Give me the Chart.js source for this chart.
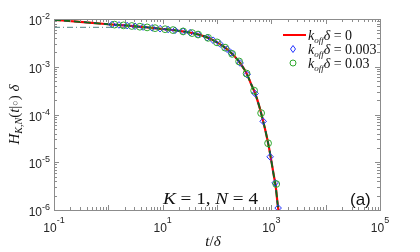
<!DOCTYPE html>
<html>
<head>
<meta charset="utf-8">
<script src="https://cdn.jsdelivr.net/npm/chart.js@4/dist/chart.umd.min.js"></script>
<style>
html, body { margin: 0; padding: 0; background: #fff; }
#wrap { width: 420px; height: 252px; }
</style>
</head>
<body>
<div id="wrap"><canvas id="myChart" width="420" height="252"></canvas></div>
<script>
// main curve, k_off*delta = 0
const curveT = [0.1, 0.3, 1, 2, 4, 7, 10, 15, 25, 40, 60, 80, 100, 130, 160, 190, 230, 270, 320, 360, 420, 500, 600, 700, 800, 900, 1000, 1100, 1200, 1300, 1400];
const curveH = [0.00962, 0.00871, 0.00776, 0.00733, 0.00684, 0.00646, 0.00617, 0.00589, 0.00543, 0.0049, 0.00427, 0.00372, 0.00324, 0.00269, 0.00224, 0.00186, 0.00148, 0.00117, 0.00087, 0.00068, 0.000447, 0.000282, 0.000148, 7.6e-5, 4.0e-5, 2.1e-5, 1.07e-5, 5.6e-6, 3.2e-6, 1.4e-6, 7.1e-7];

// k_off*delta = 0.003 (blue diamonds)
const blueT = [1.17, 1.57, 2.21, 3.1, 4.36, 6.38, 8.96, 12.6, 16.9, 23.8, 32, 44.9, 65.7, 84.8, 114, 153, 182, 266, 358, 503, 708, 951, 1175, 1334];
const blueH = [0.00767, 0.0075, 0.00728, 0.00705, 0.00679, 0.00652, 0.00627, 0.00603, 0.0058, 0.0055, 0.00519, 0.00473, 0.00407, 0.00359, 0.00299, 0.00234, 0.00195, 0.0012, 0.000684, 0.000275, 7.2e-5, 1.3e-5, 3.7e-6, 1.1e-6];

// k_off*delta = 0.03 (green circles)
const greenT = [1.3, 1.9, 2.7, 3.8, 5.17, 7.25, 11.1, 15.5, 23.8, 34.8, 44.9, 68.5, 100, 141, 190, 255, 350, 482, 649, 871, 1230];
const greenH = [0.00762, 0.00736, 0.00714, 0.00689, 0.00667, 0.00643, 0.00611, 0.00586, 0.0055, 0.00507, 0.00473, 0.00403, 0.00324, 0.00251, 0.00186, 0.00129, 0.00072, 0.000316, 0.000107, 2.5e-5, 3.5e-6];

// short-time plateau (dash-dot)
const plateauT = [0.1, 4.5];
const plateauH = [0.0067, 0.0067];

const xTickExp = [-1, 1, 3, 5];
const yTickExp = [-2, -3, -4, -5, -6];
const legendLabels = ['0', '0.003', '0.03'];

const pts = (t, h) => t.map((v, i) => ({x: v, y: h[i]}));

const axisColor = '#8c8c8c';
const textColor = '#262626';

function drawSegments(ctx, segs, x, y) {
  // segs: [text, font, dy]
  let cx = x;
  for (const s of segs) {
    ctx.font = s[1];
    ctx.fillText(s[0], cx, y + (s[2] || 0));
    cx += ctx.measureText(s[0]).width;
  }
  return cx;
}
function segWidth(ctx, segs) {
  let w = 0;
  for (const s of segs) { ctx.font = s[1]; w += ctx.measureText(s[0]).width; }
  return w;
}
// stretch a run of segments to a given width (LaTeX spacing is wider)
function drawFitted(ctx, segs, x, y, width) {
  const w = segWidth(ctx, segs);
  ctx.save();
  ctx.translate(x, y);
  ctx.scale(width / w, 1);
  drawSegments(ctx, segs, 0, 0);
  ctx.restore();
}

const serif = '"Liberation Serif", "DejaVu Serif", serif';
const sans = '"Liberation Sans", Arial, sans-serif';

const decor = {
  id: 'decor',
  afterDraw(chart) {
    const ctx = chart.ctx;
    const a = chart.chartArea;
    const xs = chart.scales.x, ys = chart.scales.y;
    ctx.save();
    // box
    ctx.strokeStyle = axisColor;
    ctx.lineWidth = 1;
    ctx.strokeRect(Math.round(a.left) + 0.5, Math.round(a.top) + 0.5, Math.round(a.right - a.left), Math.round(a.bottom - a.top));
    // ticks
    ctx.beginPath();
    for (let e = -1; e <= 4; e++) {
      for (let m = 1; m <= 10; m++) {
        const v = m * Math.pow(10, e);
        const px = Math.round(xs.getPixelForValue(v)) + 0.5;
        const len = (m === 1 || m === 10) ? 5 : 3;
        ctx.moveTo(px, a.bottom); ctx.lineTo(px, a.bottom - len);
        ctx.moveTo(px, a.top); ctx.lineTo(px, a.top + len);
      }
    }
    for (let e = -6; e <= -3; e++) {
      for (let m = 1; m <= 10; m++) {
        const v = m * Math.pow(10, e);
        const py = Math.round(ys.getPixelForValue(v)) + 0.5;
        const len = (m === 1 || m === 10) ? 5 : 3;
        ctx.moveTo(a.left, py); ctx.lineTo(a.left + len, py);
        ctx.moveTo(a.right, py); ctx.lineTo(a.right - len, py);
      }
    }
    ctx.stroke();

    // tick labels
    ctx.fillStyle = textColor;
    ctx.textBaseline = 'alphabetic';
    ctx.textAlign = 'left';
    for (const e of xTickExp) {
      const px = xs.getPixelForValue(Math.pow(10, e));
      const segs = [['10', '12px ' + sans, 0], [String(e), '9px ' + sans, -9]];
      const w = segWidth(ctx, segs);
      drawSegments(ctx, segs, px - w / 2, a.bottom + 22);
    }
    for (const e of yTickExp) {
      const py = ys.getPixelForValue(Math.pow(10, e));
      const segs = [['10', '12px ' + sans, 0], [String(e), '9px ' + sans, -6]];
      const w = segWidth(ctx, segs);
      drawSegments(ctx, segs, a.left - 4 - w, py + 6);
    }

    // axis titles
    ctx.fillStyle = '#111';
    const xl = [['t', 'italic 15px ' + serif, 0], ['/', '15px ' + serif, 0], ['δ', 'italic 15px ' + serif, 0]];
    let w = segWidth(ctx, xl);
    drawSegments(ctx, xl, (a.left + a.right) / 2 - 4 - w / 2, 246);

    const yl = [['H', 'italic 15px ' + serif, 0], ['K,N', 'italic 10px ' + serif, 3], ['(', '15px ' + serif, 0], ['t', 'italic 15px ' + serif, 0], ['|', '15px ' + serif, 0], ['○', '9px ' + sans, -1], [')', '15px ' + serif, 0], [' δ', 'italic 15px ' + serif, 0]];
    ctx.save();
    ctx.translate(19, (a.top + a.bottom) / 2);
    ctx.rotate(-Math.PI / 2);
    w = segWidth(ctx, yl);
    drawSegments(ctx, yl, -w / 2, 0);
    ctx.restore();

    // annotation texts
    const kn = [['K', 'italic 16px ' + serif, 0], [' = 1, ', '16px ' + serif, 0], ['N', 'italic 16px ' + serif, 0], [' = 4', '16px ' + serif, 0]];
    drawFitted(ctx, kn, 163, 204, 95);
    ctx.font = '17px ' + sans;
    ctx.fillText('(a)', 350, 205);

    // legend
    const lx = 283, ly = [35, 49, 63];
    ctx.strokeStyle = '#ff0000';
    ctx.lineWidth = 2;
    ctx.beginPath(); ctx.moveTo(lx, ly[0]); ctx.lineTo(lx + 23, ly[0]); ctx.stroke();
    ctx.strokeStyle = '#2233ff';
    ctx.lineWidth = 1;
    ctx.beginPath();
    ctx.moveTo(293, ly[1] - 3.5); ctx.lineTo(295.5, ly[1]); ctx.lineTo(293, ly[1] + 3.5); ctx.lineTo(290.5, ly[1]); ctx.closePath();
    ctx.stroke();
    ctx.strokeStyle = '#2ea82e';
    ctx.beginPath(); ctx.arc(293, ly[2], 3, 0, Math.PI * 2); ctx.stroke();
    ctx.fillStyle = '#111';
    legendLabels.forEach((lab, i) => {
      const segs = [['k', 'italic 14px ' + serif, 0], ['off', 'italic 9px ' + serif, 3], ['δ', 'italic 14px ' + serif, 0], [' = ' + lab, '14px ' + serif, 0]];
      drawSegments(ctx, segs, 308, ly[i] + 5);
    });
    ctx.restore();
  }
};

const canvas = document.getElementById('myChart');
const myChart = new Chart(canvas, {
  type: 'line',
  data: {
    datasets: [
      {
        label: 'plateau',
        data: pts(plateauT, plateauH),
        borderColor: '#4f8080',
        borderWidth: 1,
        borderDash: [6, 3, 1, 3],
        pointRadius: 0,
        fill: false,
        order: 9
      },
      {
        label: 'k_off delta = 0',
        data: pts(curveT, curveH),
        borderColor: '#ff0000',
        borderWidth: 2.2,
        pointRadius: 0,
        cubicInterpolationMode: 'monotone',
        fill: false,
        order: 8
      },
      {
        label: 'line 0.003',
        data: pts(curveT, curveH),
        borderColor: '#2233ff',
        borderWidth: 1.4,
        borderDash: [3, 7],
        pointRadius: 0,
        cubicInterpolationMode: 'monotone',
        fill: false,
        order: 7
      },
      {
        label: 'line 0.03',
        data: pts(curveT, curveH),
        borderColor: '#0b6a1c',
        borderWidth: 1.8,
        borderDash: [7, 3],
        pointRadius: 0,
        cubicInterpolationMode: 'monotone',
        fill: false,
        order: 6
      },
      {
        label: 'k_off delta = 0.003',
        data: pts(blueT, blueH),
        showLine: false,
        pointStyle: 'rectRot',
        pointRadius: 3.3,
        pointBorderWidth: 1,
        pointBorderColor: '#2233ff',
        pointBackgroundColor: 'rgba(0,0,0,0)',
        order: 2
      },
      {
        label: 'k_off delta = 0.03',
        data: pts(greenT, greenH),
        showLine: false,
        pointStyle: 'circle',
        pointRadius: 3.4,
        pointBorderWidth: 1,
        pointBorderColor: '#2ea82e',
        pointBackgroundColor: 'rgba(0,0,0,0)',
        order: 1
      }
    ]
  },
  options: {
    responsive: false,
    animation: false,
    layout: { padding: { left: 54, top: 19, right: 40, bottom: 42 } },
    plugins: { legend: { display: false }, tooltip: { enabled: false } },
    elements: { line: { tension: 0 } },
    scales: {
      x: {
        type: 'logarithmic',
        min: 0.1,
        max: 100000,
        ticks: { display: false },
        grid: { display: false },
        border: { display: false },
        afterFit(scale) { scale.height = 0; }
      },
      y: {
        type: 'logarithmic',
        min: 1e-6,
        max: 1e-2,
        ticks: { display: false },
        grid: { display: false },
        border: { display: false },
        afterFit(scale) { scale.width = 0; }
      }
    }
  },
  plugins: [decor]
});
</script>
</body>
</html>
